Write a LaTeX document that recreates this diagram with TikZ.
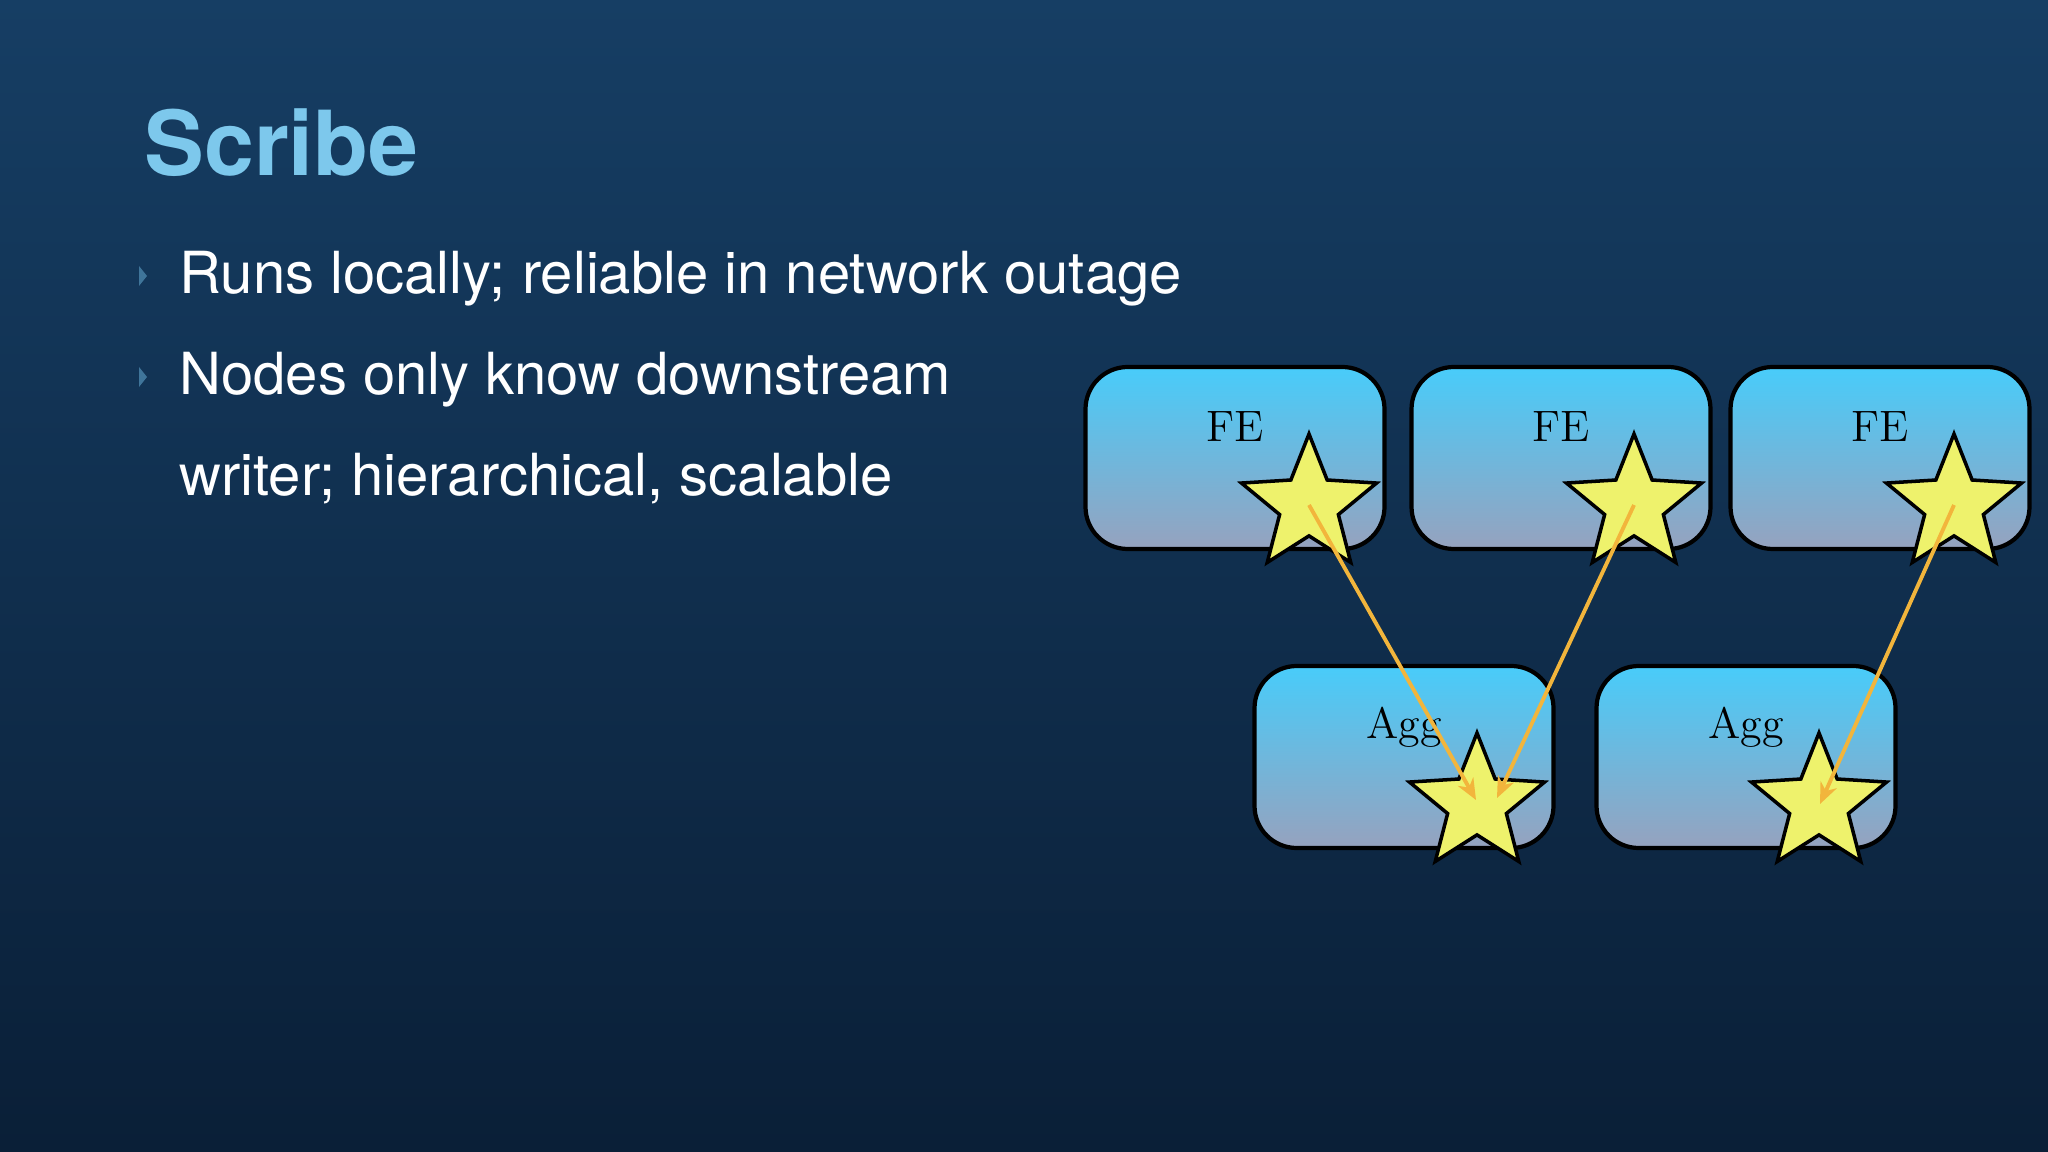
\documentclass[tikz,border=0pt]{standalone}
\usepackage{fontspec}
\usetikzlibrary{shapes.geometric,arrows.meta}
\newfontfamily\heros{TeX Gyre Heros}
\definecolor{bgtop}{HTML}{163E64}
\definecolor{bgbot}{HTML}{0A1F37}
\definecolor{boxtop}{HTML}{48CCFA}
\definecolor{boxbot}{HTML}{96A2BE}
\definecolor{titleblue}{HTML}{7DC8EC}
\definecolor{starfill}{HTML}{EEF26C}
\definecolor{arr}{HTML}{F2B53C}
\begin{document}
\begin{tikzpicture}[x=0.01cm,y=-0.01cm,
  box/.style={draw=black,line width=1.2pt,rounded corners=12,top color=boxtop,bottom color=boxbot,minimum width=299*0.01cm,minimum height=182*0.01cm,inner sep=0pt},
  lbl/.style={font=\fontsize{12.5}{14}\selectfont,text=black},
  st/.style={star,star points=5,star point ratio=2.3,draw=black,line width=1pt,fill=starfill,minimum size=1.42cm,inner sep=0pt},
  conn/.style={draw=arr,line width=1.1pt,-{Stealth[length=6pt,width=5pt]}},
  bul/.style={anchor=base west,font=\heros\fontsize{16.5}{20}\selectfont,text=white},
  tri/.style={fill=bgtop!60!white!40!bgtop}]
\shade[top color=bgtop,bottom color=bgbot] (0,0) rectangle (2048,1152);
\useasboundingbox (0,0) rectangle (2048,1152);
\node[anchor=base west,font=\heros\bfseries\fontsize{25.5}{30}\selectfont,text=titleblue] (title) at (132,176) {Scribe};
\fill[fill=titleblue!40!bgtop] (139,266) -- (147,276) -- (139,286) -- cycle;
\fill[fill=titleblue!40!bgtop] (139,367) -- (147,377) -- (139,387) -- cycle;
\node[bul] (b1) at (167,294) {Runs locally; reliable in network outage};
\node[bul] (b2) at (167,395) {Nodes only know downstream};
\node[bul] (b3) at (167,496) {writer; hierarchical, scalable};
\node[box] (fe1) at (1235,458) {};
\node[box] (fe2) at (1561,458) {};
\node[box] (fe3) at (1880,458) {};
\node[box] (ag1) at (1404,757) {};
\node[box] (ag2) at (1746,757) {};
\node[lbl] (fl1) at (1235,427) {FE};
\node[lbl] (fl2) at (1561,427) {FE};
\node[lbl] (fl3) at (1880,427) {FE};
\node[lbl] (al1) at (1404,727) {Agg};
\node[lbl] (al2) at (1746,727) {Agg};
\node[st] (s1) at (1309,505) {};
\node[st] (s2) at (1634,505) {};
\node[st] (s3) at (1954,505) {};
\node[st] (s4) at (1477,804) {};
\node[st] (s5) at (1819,804) {};
\coordinate (e1) at (1476,800);
\coordinate (e2) at (1497,798);
\coordinate (e3) at (1820,804);
\draw[conn] (s1.center) -- (e1);
\draw[conn] (s2.center) -- (e2);
\draw[conn] (s3.center) -- (e3);
\end{tikzpicture}
\end{document}
